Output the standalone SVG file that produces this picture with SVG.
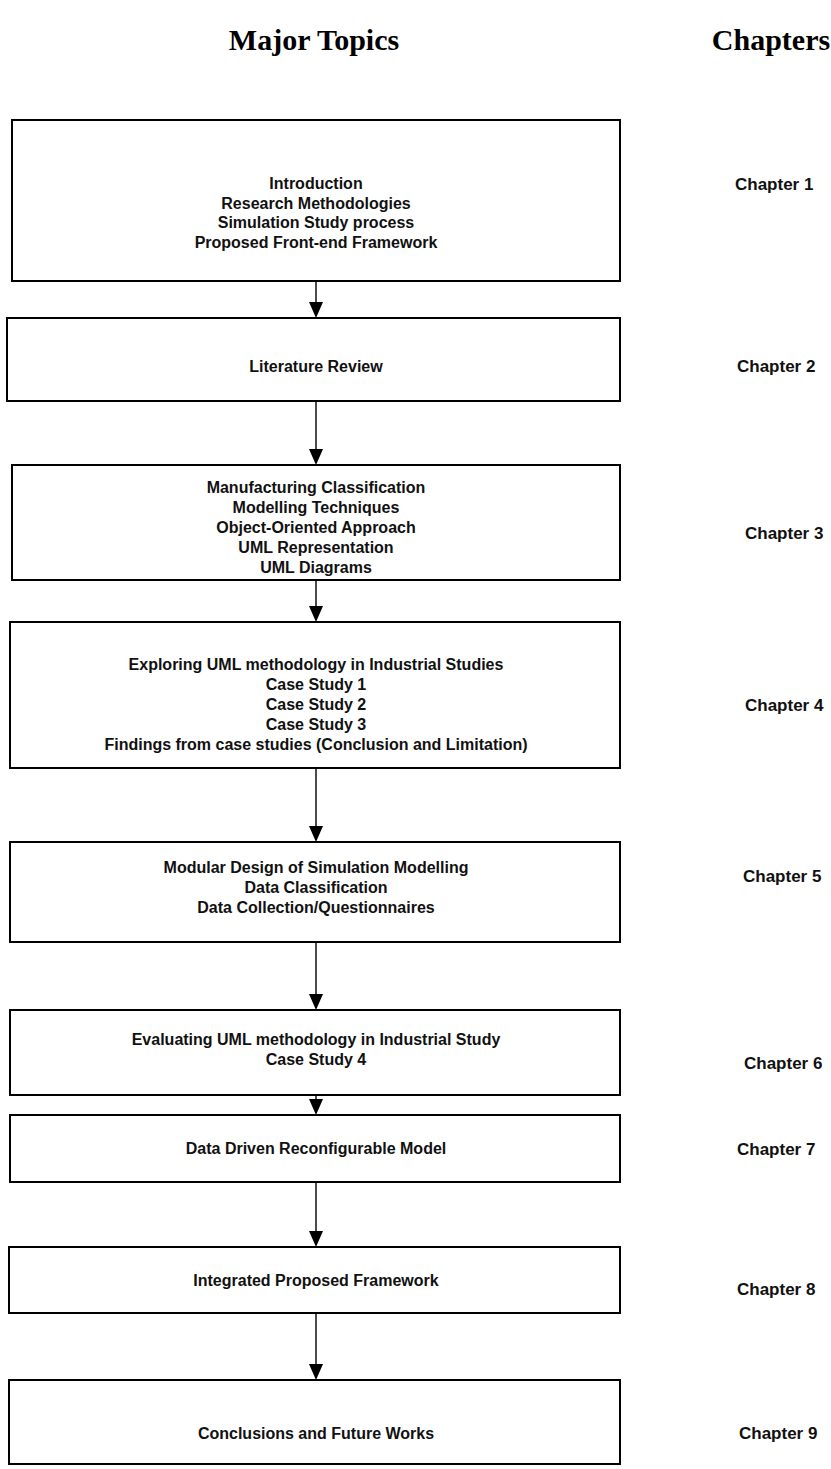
<svg xmlns="http://www.w3.org/2000/svg" width="831" height="1469" viewBox="0 0 831 1469">
  <style>
    .head { font-family: "Liberation Serif", "Times New Roman", serif; font-weight: bold; font-size: 30px; fill: #000; text-anchor: middle; }
    .box { fill: #fff; stroke: #000; stroke-width: 2; }
    .txt { font-family: "Liberation Sans", Arial, sans-serif; font-weight: bold; font-size: 16px; fill: #111; text-anchor: middle; }
    .chap { font-family: "Liberation Sans", Arial, sans-serif; font-weight: bold; font-size: 17px; fill: #111; text-anchor: start; }
    .link { stroke: #000; stroke-width: 1.4; fill: none; }
  </style>
  <rect width="831" height="1469" fill="#fff"/>

  <!-- column headings -->
  <text class="head" x="314" y="50">Major Topics</text>
  <text class="head" x="771" y="50">Chapters</text>

  <!-- connectors: vertical line plus filled arrowhead touching the next box -->
  <g id="connectors">
    <line class="link" x1="316" y1="281" x2="316" y2="304"/>
    <path d="M309,302 L323,302 L316,318 Z"/>
    <line class="link" x1="316" y1="401" x2="316" y2="451"/>
    <path d="M309,449 L323,449 L316,465 Z"/>
    <line class="link" x1="316" y1="580" x2="316" y2="608"/>
    <path d="M309,606 L323,606 L316,622 Z"/>
    <line class="link" x1="316" y1="768" x2="316" y2="828"/>
    <path d="M309,826 L323,826 L316,842 Z"/>
    <line class="link" x1="316" y1="942" x2="316" y2="996"/>
    <path d="M309,994 L323,994 L316,1010 Z"/>
    <line class="link" x1="316" y1="1095" x2="316" y2="1101"/>
    <path d="M309,1099 L323,1099 L316,1115 Z"/>
    <line class="link" x1="316" y1="1182" x2="316" y2="1233"/>
    <path d="M309,1231 L323,1231 L316,1247 Z"/>
    <line class="link" x1="316" y1="1313" x2="316" y2="1366"/>
    <path d="M309,1364 L323,1364 L316,1380 Z"/>
  </g>

  <g id="node1">
    <rect class="box" x="12" y="120" width="608" height="161"/>
    <text class="txt" x="316" y="189">Introduction</text>
    <text class="txt" x="316" y="209">Research Methodologies</text>
    <text class="txt" x="316" y="228">Simulation Study process</text>
    <text class="txt" x="316" y="248">Proposed Front-end Framework</text>
    <text class="chap" x="735" y="190">Chapter 1</text>
  </g>

  <g id="node2">
    <rect class="box" x="7" y="318" width="613" height="83"/>
    <text class="txt" x="316" y="372">Literature Review</text>
    <text class="chap" x="737" y="372">Chapter 2</text>
  </g>

  <g id="node3">
    <rect class="box" x="12" y="465" width="608" height="115"/>
    <text class="txt" x="316" y="493">Manufacturing Classification</text>
    <text class="txt" x="316" y="513">Modelling Techniques</text>
    <text class="txt" x="316" y="533">Object-Oriented Approach</text>
    <text class="txt" x="316" y="553">UML Representation</text>
    <text class="txt" x="316" y="573">UML Diagrams</text>
    <text class="chap" x="745" y="539">Chapter 3</text>
  </g>

  <g id="node4">
    <rect class="box" x="10" y="622" width="610" height="146"/>
    <text class="txt" x="316" y="670">Exploring UML methodology in Industrial Studies</text>
    <text class="txt" x="316" y="690">Case Study 1</text>
    <text class="txt" x="316" y="710">Case Study 2</text>
    <text class="txt" x="316" y="730">Case Study 3</text>
    <text class="txt" x="316" y="750">Findings from case studies (Conclusion and Limitation)</text>
    <text class="chap" x="745" y="711">Chapter 4</text>
  </g>

  <g id="node5">
    <rect class="box" x="10" y="842" width="610" height="100"/>
    <text class="txt" x="316" y="873">Modular Design of Simulation Modelling</text>
    <text class="txt" x="316" y="893">Data Classification</text>
    <text class="txt" x="316" y="913">Data Collection/Questionnaires</text>
    <text class="chap" x="743" y="882">Chapter 5</text>
  </g>

  <g id="node6">
    <rect class="box" x="10" y="1010" width="610" height="85"/>
    <text class="txt" x="316" y="1045">Evaluating UML methodology in Industrial Study</text>
    <text class="txt" x="316" y="1065">Case Study 4</text>
    <text class="chap" x="744" y="1069">Chapter 6</text>
  </g>

  <g id="node7">
    <rect class="box" x="10" y="1115" width="610" height="67"/>
    <text class="txt" x="316" y="1154">Data Driven Reconfigurable Model</text>
    <text class="chap" x="737" y="1155">Chapter 7</text>
  </g>

  <g id="node8">
    <rect class="box" x="9" y="1247" width="611" height="66"/>
    <text class="txt" x="316" y="1286">Integrated Proposed Framework</text>
    <text class="chap" x="737" y="1295">Chapter 8</text>
  </g>

  <g id="node9">
    <rect class="box" x="9" y="1380" width="611" height="84"/>
    <text class="txt" x="316" y="1439">Conclusions and Future Works</text>
    <text class="chap" x="739" y="1439">Chapter 9</text>
  </g>
</svg>
